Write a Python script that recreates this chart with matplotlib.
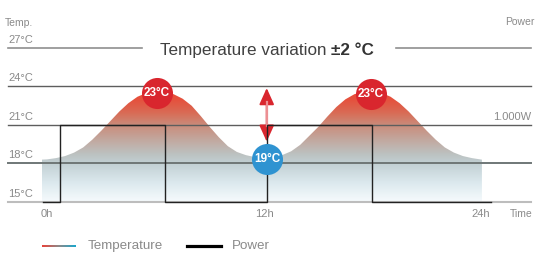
import numpy as np
import matplotlib
matplotlib.use("Agg")
import matplotlib.pyplot as plt
from matplotlib.colors import LinearSegmentedColormap
from matplotlib.patches import Polygon
from matplotlib.lines import Line2D

plt.rcParams['font.family'] = ['Liberation Sans', 'DejaVu Sans']

# temperature curve (hour, deg C)
hours = [-0.3, 0.0, 0.5, 1.0, 1.5, 2.0, 2.5, 3.0, 3.5, 4.0, 4.5, 5.0, 5.5, 6.0,
         6.5, 7.0, 7.5, 8.0, 8.5, 9.0, 9.5, 10.0, 10.5, 11.0, 11.5, 12.0,
         12.5, 13.0, 13.5, 14.0, 14.5, 15.0, 15.5, 16.0, 16.5, 17.0, 17.5, 18.0,
         18.5, 19.0, 19.5, 20.0, 20.5, 21.0, 21.5, 22.0, 22.5, 23.0, 23.5, 24.05]
temps = [18.3, 18.32, 18.42, 18.58, 18.85, 19.25, 19.85, 20.55, 21.3, 22.05, 22.7, 23.2, 23.5, 23.65,
         23.6, 23.4, 23.05, 22.5, 21.7, 20.85, 20.05, 19.35, 18.9, 18.65, 18.5, 18.45,
         18.5, 18.65, 18.95, 19.45, 20.15, 20.85, 21.65, 22.4, 23.0, 23.4, 23.6, 23.65,
         23.5, 23.2, 22.7, 22.05, 21.3, 20.55, 19.85, 19.25, 18.85, 18.58, 18.42, 18.3]

# heater power steps (hour, W)
power_hours = [-0.2, 0.72, 6.5, 12.15, 17.97, 24.55]
power_watts = [0, 1000, 0, 1000, 0, 0]

temp_ticks = [15, 18, 21, 24, 27]
time_ticks = [0, 12, 24]
time_labels = ['0h', '12h', '24h']

peak_labels = [(6.08, 23.49, '23°C'), (17.92, 23.42, '23°C')]
trough_label = (12.19, 18.35, '19°C')

W, H = 541, 259
# pixel anchors of the axis scales
X0, X24 = 47.0, 481.0
Y15, Y27 = 202.0, 48.0
ppx = (X24 - X0) / 24.0
ppy = (Y15 - Y27) / 12.0

fig = plt.figure(figsize=(W / 100, H / 100), dpi=100)
ax = fig.add_axes([0, 0, 1, 1])
ax.set_xlim(-X0 / ppx, (W - X0) / ppx)
ax.set_ylim(15 - (H - Y15) / ppy, 15 + Y15 / ppy)
ax.axis('off')

grey = '#8a8a8a'
ytr = ax.get_yaxis_transform()

# gradient fill under the temperature curve
cmap = LinearSegmentedColormap.from_list('tgrad', [
    (0.0, '#f6fbfd'), (0.17, '#dce9ee'), (0.35, '#c1cfd3'), (0.43, '#bcc1c0'),
    (0.57, '#c3a59b'), (0.69, '#ca8b7a'), (0.8, '#d96b55'), (0.91, '#e5523e'), (1.0, '#ea4837')])
grad = np.linspace(0, 1, 256).reshape(-1, 1)
im = ax.imshow(grad, cmap=cmap, origin='lower', aspect='auto',
               extent=[hours[0], hours[-1], 15, max(temps)], zorder=1)
verts = list(zip(hours, temps)) + [(hours[-1], 15), (hours[0], 15)]
clip = Polygon(verts, closed=True, facecolor='none', edgecolor='none')
ax.add_patch(clip)
im.set_clip_path(clip)

# horizontal reference lines
xl = 8 / W
xr = 531 / W
ax.axhline(27, xmin=xl, xmax=142 / W, color='#8f8f8f', lw=1.2, zorder=2)
ax.axhline(27, xmin=396 / W, xmax=xr, color='#8f8f8f', lw=1.2, zorder=2)
ax.axhline(24, xmin=xl, xmax=xr, color='#5e5e5e', lw=1.0, zorder=2)
ax.axhline(21, xmin=xl, xmax=xr, color='#5e5e5e', lw=1.0, zorder=2)
ax.axhline(18, xmin=xl, xmax=xr, color='#6f7777', lw=1.4, zorder=2)
ax.axhline(15, xmin=xl, xmax=xr, color='#bdbdbd', lw=1.5, zorder=2)

for t in temp_ticks:
    ax.text(xl, t + 3.2 / ppy, f'{t}°C', transform=ytr, fontsize=8, color=grey,
            ha='left', va='bottom')
for h, lab in zip(time_ticks, time_labels):
    ax.text(h, 15 - 12 / ppy, lab, fontsize=8, color=grey, ha='center', va='center')

fig.text(5 / W, 1 - 22.5 / H, 'Temp.', fontsize=7.5, color=grey, ha='left', va='center')
fig.text(534 / W, 1 - 22 / H, 'Power', fontsize=7.5, color=grey, ha='right', va='center')
fig.text(510 / W, 1 - 214 / H, 'Time', fontsize=7.5, color=grey, ha='left', va='center')
ax.text(xr, 21 + 3.2 / ppy, '1.000W', transform=ytr, fontsize=8, color=grey,
        ha='right', va='bottom')

# power on secondary scale: 0 W on 15 deg C line, 1000 W on 21 deg C line
ax2 = ax.twinx()
ax2.set_position([0, 0, 1, 1])
lo, hi = ax.get_ylim()
ax2.set_ylim((lo - 15) * 1000 / 6, (hi - 15) * 1000 / 6)
ax2.axis('off')
ax2.step(power_hours, power_watts, where='post', color='#222222', lw=1.0, zorder=3)

# variation arrow
ax.annotate('', xy=(12.15, 23.88), xytext=(12.15, 19.7),
            arrowprops=dict(arrowstyle='<|-|>,head_length=1.0,head_width=0.45',
                            color='#d9262e', lw=1.4, shrinkA=0, shrinkB=0), zorder=4)
ax.plot([12.15, 12.15], [22.8, 20.9], color='#ec8f93', lw=1.6, zorder=5)

# bubbles
for x, y, lab in peak_labels:
    ax2.scatter([x], [(y - 15) * 1000 / 6], s=500, color='#d9262e', zorder=6, linewidths=0)
    ax2.text(x, (y - 15) * 1000 / 6, lab, color='white', fontsize=8.5, fontweight='bold',
             family=['Liberation Sans Narrow', 'Liberation Sans'], ha='center', va='center', zorder=7)
x, y, lab = trough_label
ax2.scatter([x], [(y - 15) * 1000 / 6], s=500, color='#2f93d1', zorder=6, linewidths=0)
ax2.text(x, (y - 15) * 1000 / 6, lab, color='white', fontsize=8.5, fontweight='bold',
         family=['Liberation Sans Narrow', 'Liberation Sans'], ha='center', va='center', zorder=7)

# title
t1 = fig.text(160 / W, 1 - 55 / H, 'Temperature variation ', fontsize=12.3,
              color='#404040', ha='left', va='baseline')
fig.canvas.draw()
ax.annotate('±2 °C', xy=(1, 0), xycoords=t1, va='bottom', ha='left',
            fontsize=12.3, fontweight='bold', color='#333333')

# legend
lax = fig.add_axes([42 / W, 1 - 247.5 / H, 34 / W, 3 / H])
lax.imshow(np.linspace(0, 1, 64).reshape(1, -1), aspect='auto',
           cmap=LinearSegmentedColormap.from_list('leg', ['#e8433a', '#8c8a8a', '#1aa6cc']))
lax.axis('off')
fig.text(88 / W, 1 - 246 / H, 'Temperature', fontsize=9.6, color=grey, ha='left', va='center')
fig.add_artist(Line2D([187 / W, 221 / W], [1 - 246 / H] * 2, color='black', lw=2.3,
                      transform=fig.transFigure))
fig.text(232 / W, 1 - 246 / H, 'Power', fontsize=9.6, color=grey, ha='left', va='center')

fig.savefig('out.png', dpi=100)
